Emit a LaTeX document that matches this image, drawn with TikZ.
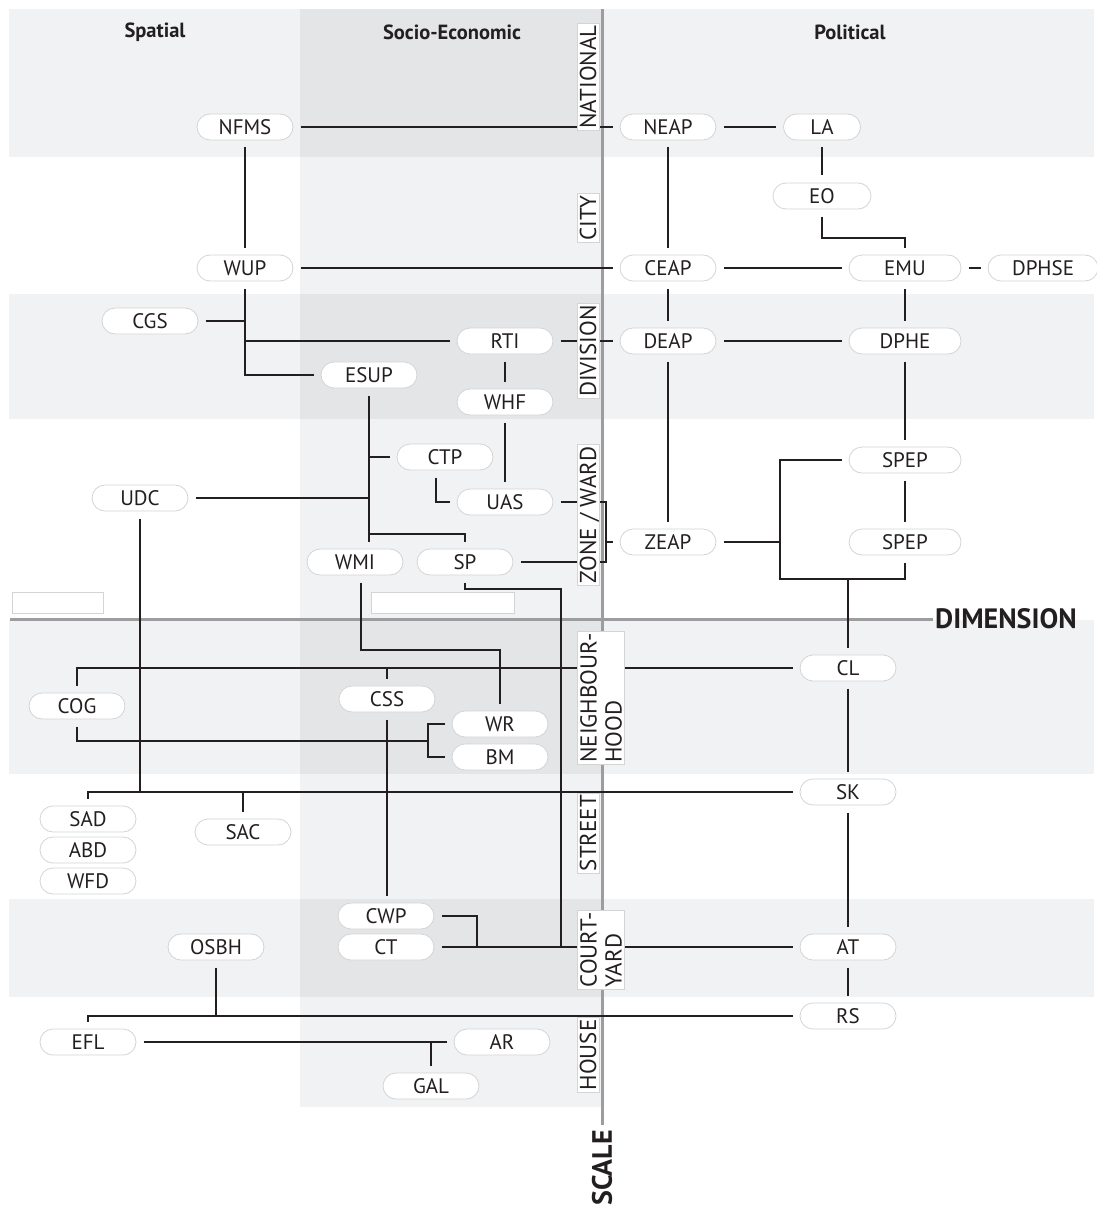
\documentclass[tikz,border=0pt]{standalone}
\usepackage{fontspec}
\setmainfont{PT Sans}
\usepackage{tikz}

\definecolor{bandlight}{HTML}{F1F2F4}
\definecolor{banddark}{HTML}{E4E5E7}
\definecolor{axisgray}{HTML}{9D9D9F}
\definecolor{rimgray}{HTML}{D3D4D6}
\definecolor{ink}{HTML}{231F20}

\tikzset{
  pill/.style={draw=rimgray, line width=0.8pt, fill=white, rounded corners=13pt,
    minimum width=96pt, minimum height=26pt, inner sep=0pt, outer sep=7.5pt,
    text=ink, font=\fontsize{21}{23}\selectfont},
  wide/.style={minimum width=112pt},
  link/.style={draw=ink, line width=2pt},
  level/.style={draw=rimgray, line width=0.8pt, fill=white, rotate=90,
    inner xsep=2pt, inner ysep=3pt, text=ink, font=\fontsize{23}{25}\selectfont},
  oneline/.style={text height=16pt, text depth=0pt},
  head/.style={text=ink, font=\fontsize{20.5}{22}\selectfont\bfseries},
  axislabel/.style={text=ink, inner sep=0pt, text height=19.6pt, text depth=0pt,
    font=\fontsize{28}{30}\selectfont\bfseries},
}

\begin{document}
\begin{tikzpicture}[x=1pt, y=-1pt]
  \useasboundingbox (0,0) rectangle (1096,1209);

  \foreach \ra/\rb in {9/157, 294/419, 620/774, 899/997}
    \fill[bandlight] (9,\ra) rectangle (1094,\rb);
  \fill[bandlight] (300,9) rectangle (601,1107);
  \foreach \ra/\rb in {9/157, 294/419, 620/774, 899/997}
    \fill[banddark] (300,\ra) rectangle (601,\rb);

  \filldraw[fill=white, draw=rimgray, line width=0.8pt] (12,592) rectangle (103,613);
  \filldraw[fill=white, draw=rimgray, line width=0.8pt] (371,592) rectangle (514,613);

  \draw[axisgray, line width=3pt] (10,619) -- (933,619);
  \draw[axisgray, line width=3pt] (602,9) -- (602,1125);
  \node[axislabel, anchor=west] (dimension) at (935,619) {DIMENSION};
  \node[axislabel, rotate=90, anchor=east] (scale) at (602,1130) {SCALE};

  \node[head] (spatial) at (155,32) {Spatial};
  \node[head] (socio) at (452,32) {Socio-Economic};
  \node[head] (political) at (850,32) {Political};

  \node[pill] (NFMS) at (245,127) {NFMS};
  \node[pill] (NEAP) at (668,127) {NEAP};
  \node[pill, minimum width=77pt] (LA) at (822,127) {LA};
  \node[pill, minimum width=98pt] (EO) at (822,196) {EO};
  \node[pill] (WUP) at (245,268) {WUP};
  \node[pill] (CEAP) at (668,268) {CEAP};
  \node[pill, wide] (EMU) at (905,268) {EMU};
  \node[pill, minimum width=110pt] (DPHSE) at (1043,268) {DPHSE};
  \node[pill] (CGS) at (150,321) {CGS};
  \node[pill] (RTI) at (505,341) {RTI};
  \node[pill] (DEAP) at (668,341) {DEAP};
  \node[pill, wide] (DPHE) at (905,341) {DPHE};
  \node[pill] (ESUP) at (369,375) {ESUP};
  \node[pill] (WHF) at (505,402) {WHF};
  \node[pill] (CTP) at (445,457) {CTP};
  \node[pill, wide] (SPEPa) at (905,460) {SPEP};
  \node[pill] (UDC) at (140,498) {UDC};
  \node[pill] (UAS) at (505,502) {UAS};
  \node[pill] (ZEAP) at (668,542) {ZEAP};
  \node[pill, wide] (SPEPb) at (905,542) {SPEP};
  \node[pill] (WMI) at (355,562) {WMI};
  \node[pill] (SP) at (465,562) {SP};
  \node[pill] (CL) at (848,668) {CL};
  \node[pill] (COG) at (77,706) {COG};
  \node[pill] (CSS) at (387,699) {CSS};
  \node[pill] (WR) at (500,724) {WR};
  \node[pill] (BM) at (500,757) {BM};
  \node[pill] (SK) at (848,792) {SK};
  \node[pill] (SAD) at (88,819) {SAD};
  \node[pill] (SAC) at (243,832) {SAC};
  \node[pill] (ABD) at (88,850) {ABD};
  \node[pill] (WFD) at (88,881) {WFD};
  \node[pill] (CWP) at (386,916) {CWP};
  \node[pill] (CT) at (386,947) {CT};
  \node[pill] (OSBH) at (216,947) {OSBH};
  \node[pill] (AT) at (848,947) {AT};
  \node[pill] (RS) at (848,1016) {RS};
  \node[pill] (EFL) at (88,1042) {EFL};
  \node[pill] (AR) at (502,1042) {AR};
  \node[pill] (GAL) at (431,1086) {GAL};

  \coordinate (ctpbend) at (436,502);
  \coordinate (zbar) at (606,542);
  \coordinate (zfork) at (780,542);
  \coordinate (spfork) at (780,579);
  \coordinate (wmibend) at (361,650);
  \coordinate (wbfork) at (428,741);
  \coordinate (spdrop) at (561,589);
  \coordinate (ctfork) at (477,947);

  % national / city / division
  \draw[link] (NFMS) -- (NEAP);
  \draw[link] (NEAP) -- (LA);
  \draw[link] (LA) -- (EO);
  \draw[link] (EO.south) -- ++(0,21) -| (EMU.north);
  \draw[link] (NFMS) -- (WUP);
  \draw[link] (NEAP) -- (CEAP);
  \draw[link] (WUP) -- (CEAP);
  \draw[link] (CEAP) -- (EMU);
  \draw[link] (EMU) -- (DPHSE);
  \draw[link] (CEAP) -- (DEAP);
  \draw[link] (EMU) -- (DPHE);
  \draw[link] (RTI) -- (DEAP);
  \draw[link] (DEAP) -- (DPHE);
  \draw[link] (WUP.south) |- (ESUP.west);
  \draw[link] (CGS.east) -- (CGS.east -| WUP.south);
  \draw[link] (WUP.south |- RTI.west) -- (RTI.west);
  \draw[link] (RTI) -- (WHF);
  \draw[link] (WHF) -- (UAS);

  % zone / ward
  \draw[link] (ESUP.south) -- (ESUP.south |- WMI.north);
  \draw[link] (CTP.west) -- (CTP.west -| ESUP.south);
  \draw[link] (UDC.east) -- (UDC.east -| ESUP.south);
  \draw[link] (SP.north) -- ++(0,-8) -| (ESUP.south);
  \draw[link] (ctpbend |- CTP.south) |- (UAS.west);
  \draw[link] (UAS.east) -| (zbar) |- (SP.east);
  \draw[link] (zbar) -- (ZEAP.west);
  \draw[link] (DEAP) -- (ZEAP);
  \draw[link] (DPHE) -- (SPEPa);
  \draw[link] (SPEPa) -- (SPEPb);
  \draw[link] (ZEAP) -- (zfork);
  \draw[link] (SPEPa.west) -| (spfork) -| (SPEPb.south);
  \draw[link] (spfork -| CL.north) -- (CL.north);

  % neighbourhood / street
  \draw[link] (CL.west) -| (COG.north);
  \draw[link] (CSS.north) -- (CSS.north |- CL.west);
  \draw[link] (wmibend |- WMI.south) -- (wmibend) -| (WR.north);
  \draw[link] (COG.south) |- (wbfork);
  \draw[link] (WR.west) -| (wbfork) |- (BM.west);
  \draw[link] (CL) -- (SK);
  \draw[link] (UDC.south) -- (UDC.south |- SK.west);
  \draw[link] (SAD.north) |- (SK.west);
  \draw[link] (SAC.north) -- (SAC.north |- SK.west);
  \draw[link] (CSS.south) -- (CSS.south |- CWP.north);
  \draw[link] (SK) -- (AT);

  % courtyard / house
  \draw[link] (SP.south) |- (spdrop) -- (spdrop |- CT.east);
  \draw[link] (CT) -- (AT);
  \draw[link] (CWP.east) -| (ctfork);
  \draw[link] (AT) -- (RS);
  \draw[link] (OSBH.south) -- (OSBH.south |- RS.west);
  \draw[link] (EFL.north) |- (RS.west);
  \draw[link] (EFL) -- (AR);
  \draw[link] (GAL.north) -- (GAL.north |- AR.west);

  \node[level, oneline] (national) at (588,77) {NATIONAL};
  \node[level, oneline] (city) at (588,218) {CITY};
  \node[level, oneline] (division) at (588,351) {DIVISION};
  \node[level, oneline] (zone) at (588,515) {ZONE / WARD};
  \node[level, align=left] (neighbourhood) at (601,698) {NEIGHBOUR-\\HOOD};
  \node[level, oneline] (street) at (588,833) {STREET};
  \node[level, align=left] (courtyard) at (601,950) {COURT-\\YARD};
  \node[level, oneline] (house) at (588,1055) {HOUSE};
\end{tikzpicture}
\end{document}
